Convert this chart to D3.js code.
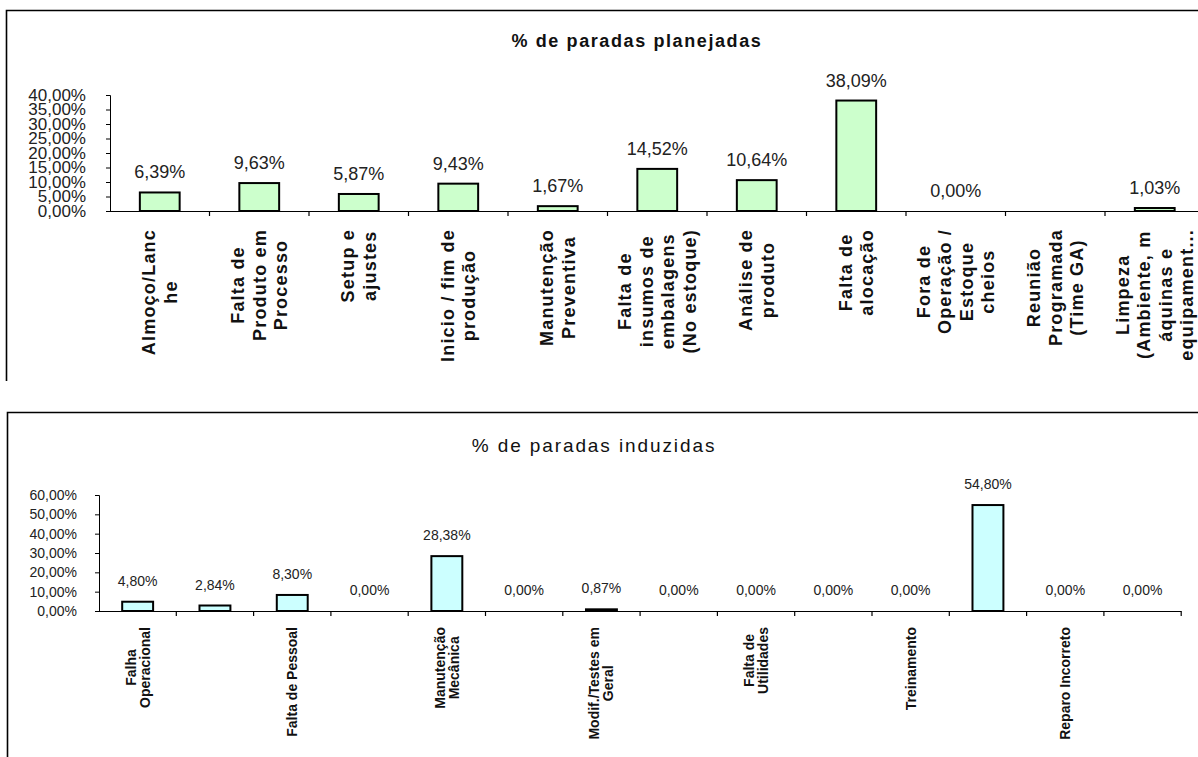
<!DOCTYPE html>
<html>
<head>
<meta charset="utf-8">
<script src="https://cdn.jsdelivr.net/npm/d3@7"></script>
<style>
  html, body { margin: 0; padding: 0; background: #fff; }
  svg { display: block; font-family: "Liberation Sans", Arial, sans-serif; }
</style>
</head>
<body>
<svg id="chart" width="1198" height="757"></svg>
<script>
// Planned stops (% de paradas planejadas)
const plannedCategories = [
  "Almoço/Lanc\nhe",
  "Falta de\nProduto em\nProcesso",
  "Setup e\najustes",
  "Inicio / fim de\nprodução",
  "Manutenção\nPreventiva",
  "Falta de\ninsumos de\nembalagens\n(No estoque)",
  "Análise de\nproduto",
  "Falta de\nalocação",
  "Fora de\nOperação /\nEstoque\ncheios",
  "Reunião\nProgramada\n(Time GA)",
  "Limpeza\n(Ambiente, m\náquinas e\nequipament..."
];
const plannedValues = [6.39, 9.63, 5.87, 9.43, 1.67, 14.52, 10.64, 38.09, 0.00, null, 1.03];
const plannedTicks = [0, 5, 10, 15, 20, 25, 30, 35, 40];

// Induced stops (% de paradas induzidas); only every other category is labelled
const inducedCategories = [
  "Falha\nOperacional", "", "Falta de Pessoal", "", "Manutenção\nMecânica", "",
  "Modif./Testes em\nGeral", "", "Falta de\nUtilidades", "", "Treinamento", "",
  "Reparo Incorreto", ""
];
const inducedValues = [4.80, 2.84, 8.30, 0.00, 28.38, 0.00, 0.87, 0.00, 0.00, 0.00, 0.00, 54.80, 0.00, 0.00];
const inducedTicks = [0, 10, 20, 30, 40, 50, 60];

const ptBR = d3.formatLocale({ decimal: ",", thousands: ".", grouping: [3], currency: ["R$", ""] });
const fmt2 = ptBR.format(".2f");
const pct = v => fmt2(v) + "%";

const svg = d3.select("#chart");
svg.append("rect").attr("width", 1198).attr("height", 757).attr("fill", "#fff");

function drawPanel(cfg) {
  const g = svg.append("g");
  const clipId = cfg.id + "-clip";
  svg.append("clipPath").attr("id", clipId)
    .append("rect").attr("x", 0).attr("y", cfg.clip[0]).attr("width", 1198).attr("height", cfg.clip[1] - cfg.clip[0]);
  g.attr("clip-path", `url(#${clipId})`);

  // chart area border (runs off the right/bottom edge)
  g.append("path")
    .attr("d", `M${cfg.frame.x},${cfg.clip[1] + 5} V${cfg.frame.y} H1210`)
    .attr("fill", "none").attr("stroke", "#000").attr("stroke-width", 1.6);

  g.append("text")
    .attr("x", cfg.title.x).attr("y", cfg.title.y)
    .attr("text-anchor", "middle")
    .attr("font-size", cfg.title.size)
    .attr("font-weight", cfg.title.weight)
    .attr("letter-spacing", cfg.title.spacing)
    .attr("fill", "#111")
    .text(cfg.title.text);

  const x = d3.scaleBand()
    .domain(d3.range(cfg.categories.length))
    .range([cfg.x0, cfg.x0 + cfg.band * cfg.categories.length])
    .paddingInner(cfg.pad).paddingOuter(cfg.pad / 2);
  const y = d3.scaleLinear().domain([0, d3.max(cfg.ticks)]).range([cfg.y0, cfg.y1]);

  // y axis
  const yAxis = d3.axisLeft(y).tickValues(cfg.ticks).tickSize(4).tickPadding(cfg.yPad).tickFormat(pct);
  const ya = g.append("g").attr("transform", `translate(${cfg.x0},0)`).call(yAxis);
  ya.select(".domain").attr("stroke", "#000").attr("stroke-width", 1);
  ya.selectAll(".tick line").attr("stroke", "#000");
  ya.selectAll("text").attr("font-size", cfg.yFont).attr("fill", "#222")
    .attr("font-family", "Liberation Sans, Arial, sans-serif");

  // x axis line with category boundary ticks
  const xEnd = cfg.x0 + cfg.band * cfg.categories.length;
  g.append("line").attr("x1", cfg.x0).attr("x2", xEnd).attr("y1", cfg.y0 + 0.5).attr("y2", cfg.y0 + 0.5)
    .attr("stroke", "#000").attr("stroke-width", 1.2);
  g.selectAll(".xtick").data(d3.range(1, cfg.categories.length + 1)).join("line")
    .attr("x1", i => cfg.x0 + i * cfg.band).attr("x2", i => cfg.x0 + i * cfg.band)
    .attr("y1", cfg.y0).attr("y2", cfg.y0 + 5)
    .attr("stroke", "#000").attr("stroke-width", 1.2);

  const data = cfg.values.map((v, i) => ({ i, v })).filter(d => d.v !== null);

  g.selectAll(".bar").data(data).join("rect")
    .attr("x", d => x(d.i)).attr("width", x.bandwidth())
    .attr("y", d => y(d.v)).attr("height", d => y(0) - y(d.v))
    .attr("fill", cfg.fill).attr("stroke", "#000").attr("stroke-width", 2);

  g.selectAll(".val").data(data).join("text")
    .attr("x", d => x(d.i) + x.bandwidth() / 2)
    .attr("y", d => y(d.v) - cfg.valGap)
    .attr("text-anchor", "middle")
    .attr("font-size", cfg.valFont).attr("fill", "#222")
    .text(d => pct(d.v));

  // rotated, multi-line category labels
  cfg.categories.forEach((label, i) => {
    if (!label) return;
    const lines = label.split("\n");
    const cx = x(i) + x.bandwidth() / 2;
    const lg = g.append("g").attr("transform", `translate(${cx},${cfg.labelTop}) rotate(-90)`);
    const texts = lines.map((ln, k) => lg.append("text")
      .attr("text-anchor", "middle")
      .attr("font-size", cfg.labelFont)
      .attr("font-weight", "bold")
      .attr("letter-spacing", cfg.labelSpacing)
      .attr("fill", "#111")
      .attr("y", (k - (lines.length - 1) / 2) * cfg.lineH)
      .attr("dy", "0.36em")
      .text(ln));
    const maxLen = d3.max(texts, t => t.node().getComputedTextLength());
    texts.forEach(t => t.attr("x", -maxLen / 2));
  });
}

drawPanel({
  id: "planned",
  clip: [0, 381],
  frame: { x: 6.5, y: 10.5 },
  title: { text: "% de paradas  planejadas", x: 637, y: 47, size: 18, weight: "bold", spacing: 1.6 },
  categories: plannedCategories,
  values: plannedValues,
  ticks: plannedTicks,
  x0: 110, band: 99.5, pad: 0.6,
  y0: 211, y1: 95,
  yFont: 17, yPad: 20,
  valFont: 18, valGap: 14,
  fill: "#ccffcc",
  labelTop: 229, labelFont: 18, labelSpacing: 1.2, lineH: 21.5
});

drawPanel({
  id: "induced",
  clip: [405, 757],
  frame: { x: 7.5, y: 412.5 },
  title: { text: "% de  paradas induzidas", x: 594, y: 452, size: 19, weight: "normal", spacing: 1.9 },
  categories: inducedCategories,
  values: inducedValues,
  ticks: inducedTicks,
  x0: 99, band: 77.3, pad: 0.6,
  y0: 611, y1: 495,
  yFont: 14, yPad: 18,
  valFont: 14, valGap: 16,
  fill: "#ccffff",
  labelTop: 627, labelFont: 14, labelSpacing: 0, lineH: 14
});
</script>
</body>
</html>
